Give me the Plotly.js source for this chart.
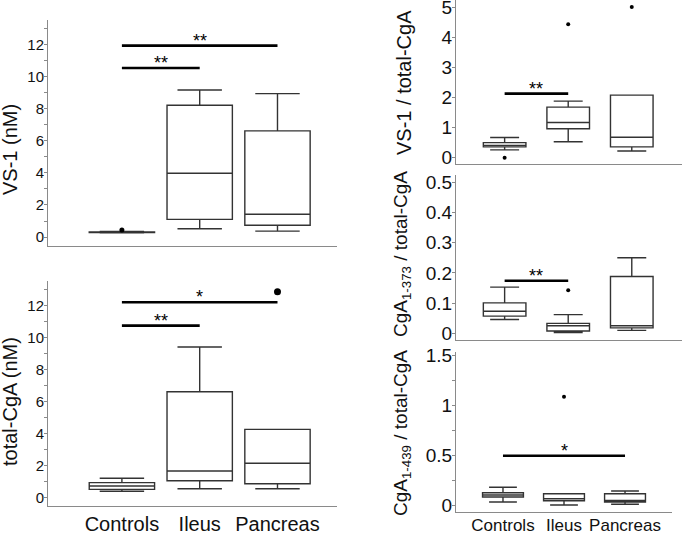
<!DOCTYPE html>
<html><head><meta charset="utf-8">
<script src="https://cdn.plot.ly/plotly-3.0.1.min.js"></script>
<style>html,body{margin:0;padding:0;background:#fff}#chart{width:682px;height:534px}</style>
</head><body><div id="chart"></div>
<script>
const groups = ['Controls', 'Ileus', 'Pancreas'];
const groupPos = [1, 2, 3];

// Panel 1: VS-1 (nM)
const vs1_lower  = [0.26, 0.52, 0.37];
const vs1_q1     = [0.28, 1.10, 0.73];
const vs1_median = [0.30, 3.98, 1.42];
const vs1_q3     = [0.32, 8.23, 6.63];
const vs1_upper  = [0.34, 9.19, 8.96];
const vs1_outX = [1];
const vs1_outY = [0.44];
const vs1_sigFrom = [1, 1];
const vs1_sigTo   = [2, 3];
const vs1_sigY    = [10.56, 11.96];
const vs1_sigLabel = ['**', '**'];

// Panel 2: total-CgA (nM)
const tot_lower  = [0.38, 0.54, 0.54];
const tot_q1     = [0.50, 1.04, 0.85];
const tot_median = [0.71, 1.65, 2.13];
const tot_q3     = [0.92, 6.60, 4.25];
const tot_upper  = [1.19, 9.40, 4.25];
const tot_outX = [3];
const tot_outY = [12.85];
const tot_sigFrom = [1, 1];
const tot_sigTo   = [2, 3];
const tot_sigY    = [10.73, 12.19];
const tot_sigLabel = ['**', '*'];

// Panel 3: VS-1 / total-CgA
const rvs_lower  = [0.26, 0.53, 0.22];
const rvs_q1     = [0.36, 0.96, 0.36];
const rvs_median = [0.41, 1.17, 0.68];
const rvs_q3     = [0.50, 1.68, 2.08];
const rvs_upper  = [0.67, 1.88, 2.08];
const rvs_outX = [1, 2, 3];
const rvs_outY = [0.0, 4.43, 5.01];
const rvs_sigFrom = [1];
const rvs_sigTo   = [2];
const rvs_sigY    = [2.13];
const rvs_sigLabel = ['**'];

// Panel 4: CgA1-373 / total-CgA
const r373_lower  = [0.046, 0.003, 0.010];
const r373_q1     = [0.057, 0.008, 0.018];
const r373_median = [0.073, 0.025, 0.025];
const r373_q3     = [0.101, 0.033, 0.188];
const r373_upper  = [0.153, 0.062, 0.250];
const r373_outX = [2];
const r373_outY = [0.143];
const r373_sigFrom = [1];
const r373_sigTo   = [2];
const r373_sigY    = [0.174];
const r373_sigLabel = ['**'];

// Panel 5: CgA1-439 / total-CgA
const r439_lower  = [0.030, 0.000, 0.007];
const r439_q1     = [0.080, 0.043, 0.030];
const r439_median = [0.100, 0.063, 0.045];
const r439_q3     = [0.123, 0.113, 0.113];
const r439_upper  = [0.177, 0.113, 0.140];
const r439_outX = [2];
const r439_outY = [1.083];
const r439_sigFrom = [1];
const r439_sigTo   = [3];
const r439_sigY    = [0.493];
const r439_sigLabel = ['*'];

// Axis titles
const yTitles = ['VS-1 (nM)', 'total-CgA (nM)', 'VS-1 / total-CgA',
                 'CgA<sub>1-373</sub> / total-CgA', 'CgA<sub>1-439</sub> / total-CgA'];

const FONT = 'Liberation Sans, Arial, Helvetica, sans-serif';
const AXC = '#8a8a8a';
const BOXC = '#333333';
const TXT = '#111111';

const panels = [
  {n: 1, lower: vs1_lower, q1: vs1_q1, med: vs1_median, q3: vs1_q3, upper: vs1_upper, ox: vs1_outX, oy: vs1_outY, sf: vs1_sigFrom, st: vs1_sigTo, sy: vs1_sigY, sl: vs1_sigLabel, bw: 0.84, ms: 5},
  {n: 2, lower: tot_lower, q1: tot_q1, med: tot_median, q3: tot_q3, upper: tot_upper, ox: tot_outX, oy: tot_outY, sf: tot_sigFrom, st: tot_sigTo, sy: tot_sigY, sl: tot_sigLabel, bw: 0.84, ms: 7},
  {n: 3, lower: rvs_lower, q1: rvs_q1, med: rvs_median, q3: rvs_q3, upper: rvs_upper, ox: rvs_outX, oy: rvs_outY, sf: rvs_sigFrom, st: rvs_sigTo, sy: rvs_sigY, sl: rvs_sigLabel, bw: 0.67, ms: 4},
  {n: 4, lower: r373_lower, q1: r373_q1, med: r373_median, q3: r373_q3, upper: r373_upper, ox: r373_outX, oy: r373_outY, sf: r373_sigFrom, st: r373_sigTo, sy: r373_sigY, sl: r373_sigLabel, bw: 0.67, ms: 4},
  {n: 5, lower: r439_lower, q1: r439_q1, med: r439_median, q3: r439_q3, upper: r439_upper, ox: r439_outX, oy: r439_outY, sf: r439_sigFrom, st: r439_sigTo, sy: r439_sigY, sl: r439_sigLabel, bw: 0.67, ms: 4}
];

const traces = [];
const annotations = [];
panels.forEach(p => {
  const xa = 'x' + (p.n === 1 ? '' : p.n);
  const ya = 'y' + (p.n === 1 ? '' : p.n);
  traces.push({
    type: 'box', x: groupPos, q1: p.q1, median: p.med, q3: p.q3,
    lowerfence: p.lower, upperfence: p.upper,
    xaxis: xa, yaxis: ya, width: p.bw, whiskerwidth: 0.68,
    fillcolor: 'white', line: {color: BOXC, width: 1.4},
    boxpoints: false, hoverinfo: 'skip'
  });
  traces.push({
    type: 'scatter', mode: 'markers', x: p.ox, y: p.oy, xaxis: xa, yaxis: ya,
    marker: {color: 'black', size: p.ms}, hoverinfo: 'skip', cliponaxis: false
  });
  p.sf.forEach((f, i) => {
    traces.push({
      type: 'scatter', mode: 'lines', x: [f, p.st[i]], y: [p.sy[i], p.sy[i]],
      xaxis: xa, yaxis: ya, line: {color: 'black', width: 2.6}, hoverinfo: 'skip'
    });
    annotations.push({
      xref: xa, yref: ya, x: (f + p.st[i]) / 2, y: p.sy[i], text: p.sl[i],
      showarrow: false, yanchor: 'bottom', yshift: -7,
      font: {family: FONT, size: 18, color: 'black'}
    });
  });
});

const W = 682, H = 534;
const fx = v => v / W;
const fy = v => (H - v) / H;

// y-axis titles (rotated text placed beside each panel)
const titlePosX = [10, 10, 404, 402, 402];
const titlePosY = [150, 402, 83, 254, 433];
const titleSize = [20, 20, 20, 19, 19];
yTitles.forEach((t, i) => {
  annotations.push({
    xref: 'paper', yref: 'paper', x: fx(titlePosX[i]), y: fy(titlePosY[i]),
    xanchor: 'center', yanchor: 'middle', textangle: -90, showarrow: false,
    text: t, font: {family: FONT, size: titleSize[i], color: TXT}
  });
});

function yax(domain, range, dtick, minor, tfs, anchor, stand) {
  const a = {
    domain: domain, range: range, dtick: dtick, tick0: 0, anchor: anchor,
    showline: true, linecolor: AXC, linewidth: 1,
    ticks: 'outside', ticklen: 3, tickcolor: AXC,
    showgrid: false, zeroline: false,
    ticklabeloverflow: 'allow', ticklabelstandoff: stand,
    tickfont: {family: FONT, size: tfs, color: TXT}
  };
  if (minor) a.minor = {dtick: minor, ticks: 'outside', ticklen: 3, tickcolor: AXC, showgrid: false};
  return a;
}
function xax(domain, range, anchor, showLabels, tfs, stand) {
  return {
    domain: domain, range: range, anchor: anchor,
    showline: true, linecolor: AXC, linewidth: 1,
    ticks: '', showgrid: false, zeroline: false,
    tickvals: groupPos, ticktext: groups, showticklabels: showLabels,
    tickangle: 0, ticklabeloverflow: 'allow', ticklabelstandoff: stand,
    tickfont: {family: FONT, size: tfs, color: TXT}
  };
}

const layout = {
  width: W, height: H,
  margin: {l: 0, r: 0, t: 0, b: 0},
  paper_bgcolor: 'white', plot_bgcolor: 'white',
  showlegend: false,
  font: {family: FONT},
  xaxis:  xax([fx(48), fx(337)], [0.05, 3.765], 'y', false, 20, 0),
  yaxis:  yax([fy(246), fy(20)], [-0.5625, 13.56], 2, 1, 15, 'x', -3),
  xaxis2: xax([fx(48), fx(337)], [0.05, 3.765], 'y2', true, 20, 0),
  yaxis2: yax([fy(506), fy(280.7)], [-0.54, 13.54], 2, 1, 15, 'x2', -3),
  xaxis3: xax([fx(456), 1], [0.235, 3.79], 'y3', false, 17, 0),
  yaxis3: yax([fy(164), 1], [-0.21, 5.24], 1, null, 19, 'x3', -4),
  xaxis4: xax([fx(456), 1], [0.235, 3.79], 'y4', false, 17, 0),
  yaxis4: yax([fy(340), fy(175)], [-0.022, 0.524], 0.1, null, 19, 'x4', -4),
  xaxis5: xax([fx(456), fx(672)], [0.23, 3.77], 'y5', true, 17, -2),
  yaxis5: yax([fy(511.7), fy(351.7)], [-0.067, 1.533], 0.5, 0.25, 19, 'x5', -4),
  annotations: annotations
};

Plotly.newPlot('chart', traces, layout, {staticPlot: true, displayModeBar: false});
</script>
</body></html>
